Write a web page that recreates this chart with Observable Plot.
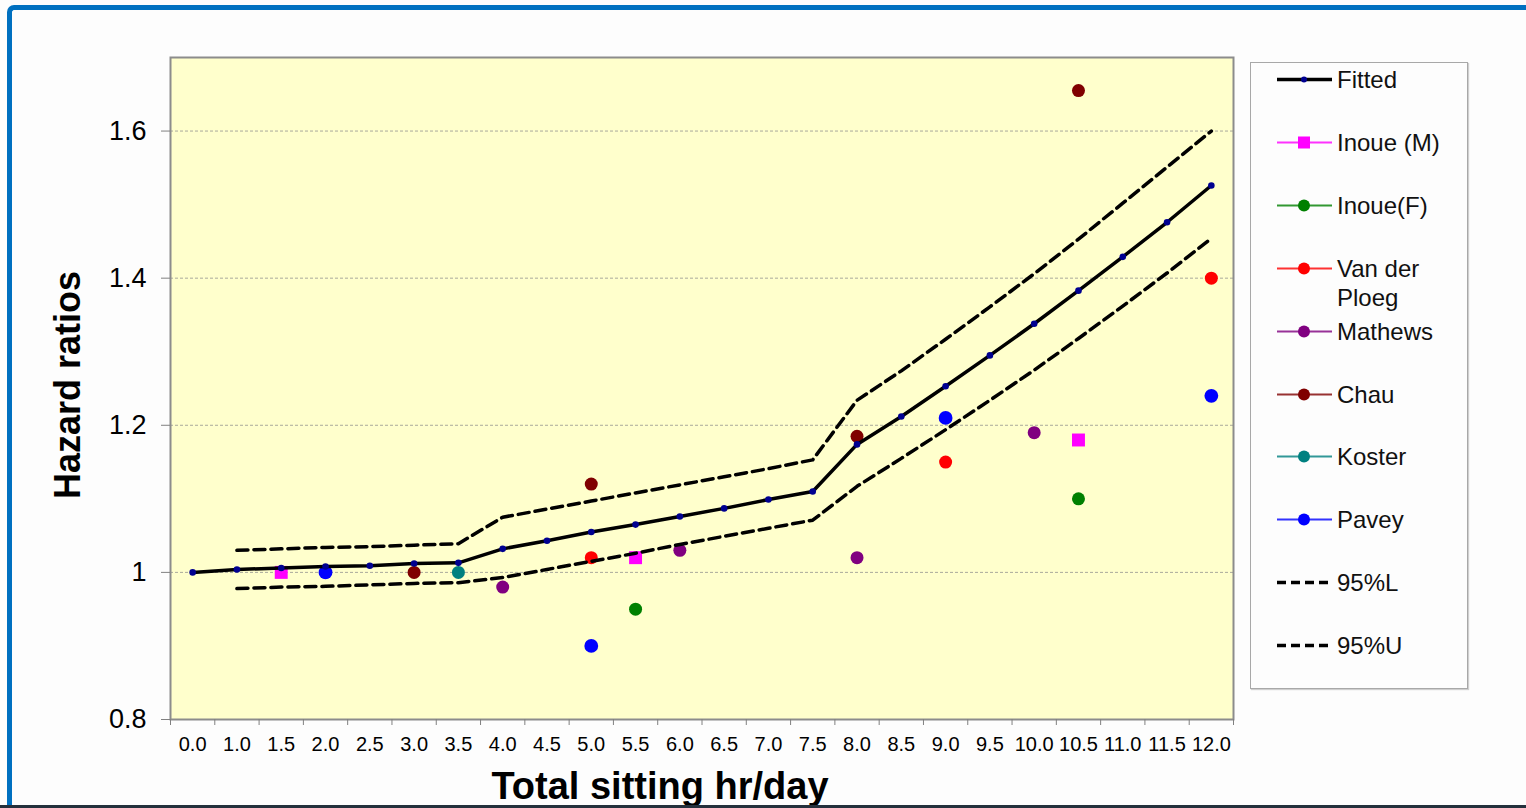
<!DOCTYPE html>
<html>
<head>
<meta charset="utf-8">
<script src="https://cdn.jsdelivr.net/npm/d3@7"></script>
<script src="https://cdn.jsdelivr.net/npm/@observablehq/plot@0.6"></script>
<style>
  html, body { margin: 0; padding: 0; background: #fdfdfd; }
  #page { position: relative; width: 1526px; height: 808px; overflow: hidden; background: #fdfdfd; font-family: "Liberation Sans", Arial, sans-serif; }
  #blueframe { position: absolute; left: 7px; top: 5px; width: 1530px; height: 820px; border-top: 5px solid #0070C0; border-left: 5px solid #0070C0; border-top-left-radius: 7px; box-sizing: border-box; }
  #bottomline { position: absolute; left: 0; bottom: 0; width: 1526px; height: 3px; background: #24303c; }
  #chart { position: absolute; left: 0; top: 0; }
  .ytitle { position: absolute; left: 68px; top: 385px; transform: translate(-50%, -50%) rotate(-90deg); font-weight: bold; font-size: 36px; white-space: nowrap; color: #000; }
  .xtitle { position: absolute; left: 660px; top: 786px; transform: translate(-50%, -50%); font-weight: bold; font-size: 38px; white-space: nowrap; color: #000; }
  #legend { position: absolute; left: 1250px; top: 62px; width: 218px; height: 627px; box-sizing: border-box; border: 1.5px solid #a8a8a8; background: #fdfdfd; box-shadow: 1px 1px 1px #cfcfcf; }
  .lrow { position: absolute; left: 0; width: 218px; }
  .lrow svg { position: absolute; left: 25px; top: 0; }
  .lrow .ltxt { position: absolute; left: 86px; top: 0; width: 125px; font-size: 24px; line-height: 29px; color: #111; }
</style>
</head>
<body>
<div id="page">
  <div id="blueframe"></div>
  <div id="chart"></div>
  <div class="ytitle">Hazard ratios</div>
  <div class="xtitle">Total sitting hr/day</div>
  <div id="legend"></div>
  <div id="bottomline"></div>
</div>
<script>
// ---------- data ----------
const xLabels = ["0.0","1.0","1.5","2.0","2.5","3.0","3.5","4.0","4.5","5.0","5.5","6.0",
                 "6.5","7.0","7.5","8.0","8.5","9.0","9.5","10.0","10.5","11.0","11.5","12.0"];
const yTicks = [0.8, 1, 1.2, 1.4, 1.6];
const gridValues = [1, 1.2, 1.4, 1.6];

const fitted = [1.000,1.004,1.006,1.008,1.009,1.012,1.013,1.032,1.043,1.055,1.065,1.076,
                1.087,1.099,1.110,1.174,1.212,1.253,1.295,1.338,1.383,1.429,1.476,1.526];

const ciLabels = xLabels.slice(1);
const ci95L = [0.978,0.980,0.981,0.983,0.985,0.986,0.993,1.004,1.015,1.026,1.038,1.049,
               1.060,1.071,1.117,1.155,1.194,1.234,1.275,1.318,1.362,1.407,1.454];
const ci95U = [1.030,1.032,1.034,1.035,1.037,1.039,1.075,1.086,1.097,1.108,1.119,1.130,
               1.141,1.153,1.234,1.274,1.317,1.361,1.406,1.453,1.502,1.551,1.600];

const seriesNames  = ["Inoue (M)", "Inoue(F)", "Van der Ploeg", "Mathews", "Chau", "Koster", "Pavey"];
const seriesColors = ["#FF00FF", "#008000", "#FF0000", "#800080", "#800000", "#008080", "#0000FF"];
const seriesSymbols = ["square", "circle", "circle", "circle", "circle", "circle", "circle"];

const inoueM_x = ["1.5", "5.5", "10.5"];          const inoueM_y = [1.00, 1.02, 1.18];
const inoueF_x = ["5.5", "10.5"];                 const inoueF_y = [0.95, 1.10];
const vdPloeg_x = ["5.0", "9.0", "12.0"];         const vdPloeg_y = [1.02, 1.15, 1.40];
const mathews_x = ["4.0", "6.0", "8.0", "10.0"];  const mathews_y = [0.98, 1.03, 1.02, 1.19];
const chau_x = ["3.0", "5.0", "8.0", "10.5"];     const chau_y = [1.00, 1.12, 1.185, 1.655];
const koster_x = ["3.5"];                         const koster_y = [1.00];
const pavey_x = ["2.0", "5.0", "9.0", "12.0"];    const pavey_y = [1.00, 0.90, 1.21, 1.24];

const legendNames = ["Fitted", ...seriesNames, "95%L", "95%U"];

// ---------- build tables ----------
const idx = (lab) => xLabels.indexOf(lab);
const fittedData = fitted.map((v, i) => ({x: i, y: v}));
const lowData = ci95L.map((v, i) => ({x: idx(ciLabels[i]), y: v}));
const upData = ci95U.map((v, i) => ({x: idx(ciLabels[i]), y: v}));
const studyXs = [inoueM_x, inoueF_x, vdPloeg_x, mathews_x, chau_x, koster_x, pavey_x];
const studyYs = [inoueM_y, inoueF_y, vdPloeg_y, mathews_y, chau_y, koster_y, pavey_y];
const studies = [];
studyXs.forEach((xs, s) => xs.forEach((lab, j) => studies.push({
  x: idx(lab), y: studyYs[s][j], series: seriesNames[s], symbol: seriesSymbols[s]
})));

const colorScale = {domain: seriesNames, range: seriesColors};

const chart = Plot.plot({
  width: 1240,
  height: 808,
  marginLeft: 170,
  marginRight: 7,
  marginTop: 57,
  marginBottom: 89,
  style: {fontFamily: "'Liberation Sans', Arial, sans-serif", background: "transparent", color: "#000", overflow: "visible"},
  x: {type: "linear", domain: [-0.5, xLabels.length - 0.5]},
  y: {type: "linear", domain: [0.8, 1.7]},
  color: colorScale,
  marks: [
    Plot.frame({fill: "#FFFFCC", stroke: "none"}),
    Plot.ruleY(gridValues, {stroke: "#a9a99b", strokeWidth: 1, strokeDasharray: "3,2"}),
    Plot.frame({stroke: "#8c8c8c", strokeWidth: 2}),
    Plot.axisY({ticks: yTicks, tickSize: 9, tickPadding: 15, fontSize: 27, label: null, stroke: "#808080",
                tickFormat: d => d === 1 ? "1" : d.toFixed(1)}),
    Plot.axisX({ticks: d3.range(xLabels.length), tickSize: 0, tickPadding: 17, fontSize: 20, label: null,
                tickFormat: i => xLabels[i]}),
    Plot.axisX({ticks: d3.range(xLabels.length + 1).map(i => i - 0.5), tickSize: 6, label: null,
                stroke: "#808080", tickFormat: () => ""}),
    Plot.dot(studies.filter(d => d.symbol === "square"), {x: "x", y: "y", fill: "series", symbol: "square", r: 7.3}),
    Plot.dot(studies.filter(d => d.symbol === "circle" && d.series !== "Pavey"), {x: "x", y: "y", fill: "series", r: 6.5}),
    Plot.dot(studies.filter(d => d.series === "Pavey"), {x: "x", y: "y", fill: "series", r: 6.9}),
    Plot.line(lowData, {x: "x", y: "y", stroke: "#000", strokeWidth: 3.5, strokeDasharray: "11,6"}),
    Plot.line(upData, {x: "x", y: "y", stroke: "#000", strokeWidth: 3.5, strokeDasharray: "11,6"}),
    Plot.line(fittedData, {x: "x", y: "y", stroke: "#000", strokeWidth: 3.5}),
    Plot.dot(fittedData, {x: "x", y: "y", fill: "#000090", r: 3.3})
  ]
});
document.getElementById("chart").appendChild(chart);

// ---------- legend ----------
const legendCenters = [78, 141, 204, 267, 330, 393, 455, 518, 581, 644];
const legendColors = ["#000", ...seriesColors, "#000", "#000"];
const legend = document.getElementById("legend");
legendNames.forEach((name, i) => {
  const cy = legendCenters[i] - 62;
  const row = document.createElement("div");
  row.className = "lrow";
  row.style.top = (cy - 14.5) + "px";
  const svg = d3.create("svg").attr("width", 60).attr("height", 29);
  const col = legendColors[i];
  if (name === "Fitted") {
    svg.append("line").attr("x1", 1).attr("x2", 56).attr("y1", 14.5).attr("y2", 14.5)
      .attr("stroke", "#000").attr("stroke-width", 3.5);
    svg.append("circle").attr("cx", 28).attr("cy", 14.5).attr("r", 3).attr("fill", "#000090");
  } else if (name.startsWith("95%")) {
    svg.append("line").attr("x1", 1).attr("x2", 56).attr("y1", 14.5).attr("y2", 14.5)
      .attr("stroke", "#000").attr("stroke-width", 3.5).attr("stroke-dasharray", "9,5");
  } else {
    svg.append("line").attr("x1", 1).attr("x2", 56).attr("y1", 14.5).attr("y2", 14.5)
      .attr("stroke", col).attr("stroke-width", 2).attr("opacity", 0.8);
    if (seriesSymbols[i - 1] === "square") {
      svg.append("rect").attr("x", 22).attr("y", 8.5).attr("width", 12).attr("height", 12).attr("fill", col);
    } else {
      svg.append("circle").attr("cx", 28).attr("cy", 14.5).attr("r", 6).attr("fill", col);
    }
  }
  row.appendChild(svg.node());
  const t = document.createElement("div");
  t.className = "ltxt";
  t.textContent = name;
  row.appendChild(t);
  legend.appendChild(row);
});
</script>
</body>
</html>
